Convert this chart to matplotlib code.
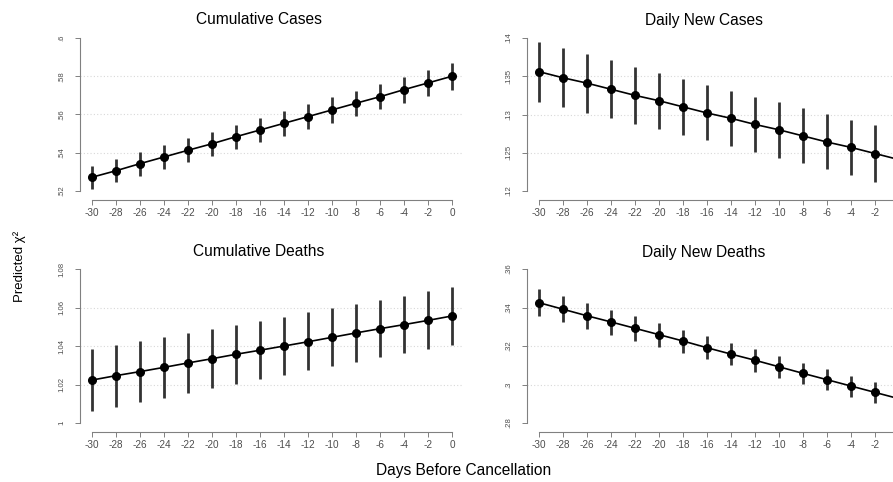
import matplotlib
matplotlib.use("Agg")
import matplotlib.pyplot as plt

plt.rcParams['font.family'] = ['Liberation Sans', 'DejaVu Sans']

days = [-30, -28, -26, -24, -22, -20, -18, -16, -14, -12, -10, -8, -6, -4, -2, 0]

# Cumulative Cases
cc_fit = [0.5272, 0.5306, 0.5343, 0.5378, 0.5413, 0.5447, 0.5484, 0.5519,
          0.5554, 0.5589, 0.5624, 0.5659, 0.5693, 0.5730, 0.5765, 0.5800]
cc_hi = [0.5332, 0.5367, 0.5404, 0.5439, 0.5475, 0.5510, 0.5547, 0.5582,
         0.5618, 0.5653, 0.5690, 0.5725, 0.5761, 0.5796, 0.5833, 0.5869]
cc_lo = [0.5209, 0.5245, 0.5280, 0.5315, 0.5350, 0.5385, 0.5420, 0.5455,
         0.5489, 0.5524, 0.5557, 0.5592, 0.5627, 0.5662, 0.5695, 0.5730]

# Daily New Cases
dc_fit = [0.1356, 0.1348, 0.1341, 0.1333, 0.1325, 0.1318, 0.1310, 0.1302,
          0.1295, 0.1287, 0.1280, 0.1272, 0.1264, 0.1257, 0.1249, 0.1241]
dc_hi = [0.13952, 0.13869, 0.13791, 0.13708, 0.13625, 0.13546, 0.13464, 0.13386,
         0.13307, 0.13233, 0.13160, 0.13081, 0.13007, 0.12932, 0.12859, 0.12785]
dc_lo = [0.13159, 0.13094, 0.13020, 0.12950, 0.12876, 0.12806, 0.12732, 0.12663,
         0.12588, 0.12510, 0.12435, 0.12362, 0.12284, 0.12205, 0.12122, 0.12040]

# Cumulative Deaths
cd_fit = [1.0223, 1.0246, 1.0267, 1.0289, 1.0312, 1.0334, 1.0357, 1.0378,
          1.0400, 1.0422, 1.0445, 1.0468, 1.0490, 1.0511, 1.0533, 1.0556]
cd_hi = [1.0384, 1.0407, 1.0426, 1.0448, 1.0468, 1.0488, 1.0509, 1.0531,
         1.0552, 1.0575, 1.0596, 1.0618, 1.0641, 1.0661, 1.0684, 1.0705]
cd_lo = [1.0061, 1.0085, 1.0108, 1.0132, 1.0156, 1.0180, 1.0203, 1.0227,
         1.0249, 1.0274, 1.0295, 1.0318, 1.0341, 1.0362, 1.0384, 1.0406]

# Daily New Deaths
dd_fit = [0.3425, 0.3391, 0.3357, 0.3325, 0.3292, 0.3259, 0.3226, 0.3191,
          0.3158, 0.3126, 0.3092, 0.3058, 0.3025, 0.2992, 0.2959, 0.2926]
dd_hi = [0.3495, 0.3459, 0.3425, 0.3389, 0.3355, 0.3319, 0.3285, 0.3250,
         0.3216, 0.3183, 0.3148, 0.3113, 0.3081, 0.3046, 0.3013, 0.2980]
dd_lo = [0.3356, 0.3323, 0.3290, 0.3259, 0.3227, 0.3195, 0.3164, 0.3132,
         0.3100, 0.3066, 0.3035, 0.3003, 0.2970, 0.2937, 0.2902, 0.2868]

titles = ["Cumulative Cases", "Daily New Cases", "Cumulative Deaths", "Daily New Deaths"]
yticks = [[0.52, 0.54, 0.56, 0.58, 0.6],
          [0.12, 0.125, 0.13, 0.135, 0.14],
          [1, 1.02, 1.04, 1.06, 1.08],
          [0.28, 0.30, 0.32, 0.34, 0.36]]
ylabels = [[".52", ".54", ".56", ".58", ".6"],
           [".12", ".125", ".13", ".135", ".14"],
           ["1", "1.02", "1.04", "1.06", "1.08"],
           [".28", ".3", ".32", ".34", ".36"]]
series = [(cc_fit, cc_lo, cc_hi), (dc_fit, dc_lo, dc_hi),
          (cd_fit, cd_lo, cd_hi), (dd_fit, dd_lo, dd_hi)]

W, H = 893, 482
fig = plt.figure(figsize=(W / 100, H / 100), dpi=100)
fig.patch.set_facecolor('white')

# panel boxes in pixels: (left, top, bottom); right column runs off the page
boxes = [(80, 38, 200), (527, 38, 200), (80, 269, 432), (527, 269, 432)]
panel_w = 383
title_pos = [(259, 20), (704, 20), (259, 252), (704, 252)]

axis_grey = '#808080'
text_grey = '#4d4d4d'

for i in range(4):
    left, top, bot = boxes[i]
    ax = fig.add_axes([left / W, 1 - bot / H, panel_w / W, (bot - top) / H])
    fit, lo, hi = series[i]
    yt = yticks[i]
    span = yt[-1] - yt[0]
    tick_px = (bot - 9 - top)
    ax.set_ylim(yt[0] - 9 / tick_px * span, yt[-1])
    ax.set_xlim(-30 - 12 / 12.0, 0.917)

    for v in yt[1:-1]:
        ax.axhline(v, color='#d8d8d8', lw=0.8, ls=(0, (1, 2)), zorder=0)

    ax.vlines(days, lo, hi, color='#333333', lw=2.0, zorder=2)
    ax.plot(days, fit, color='black', lw=1.2, marker='o', ms=5.5, zorder=3)

    for s in ['top', 'right']:
        ax.spines[s].set_visible(False)
    for s in ['left', 'bottom']:
        ax.spines[s].set_color(axis_grey)
        ax.spines[s].set_linewidth(0.8)
    ax.spines['left'].set_bounds(yt[0], yt[-1])
    ax.spines['bottom'].set_bounds(days[0], days[-1])

    ax.set_yticks(yt)
    ax.set_yticklabels(ylabels[i], rotation=90, va='center', fontsize=5.6, color=text_grey)
    ax.set_xticks(days)
    ax.set_xticklabels([str(d) for d in days], fontsize=7.2, color=text_grey)
    ax.tick_params(axis='y', length=3.5, width=0.7, color=axis_grey, pad=7)
    ax.tick_params(axis='x', length=3.5, width=0.7, color=axis_grey, pad=2)
    ax.patch.set_alpha(0)

    tx, ty = title_pos[i]
    fig.text(tx / W, 1 - ty / H, titles[i], ha='center', va='center',
             fontsize=11.2, color='black')

fig.text(20 / W, 1 - 266 / H, "Predicted χ²", rotation=90, ha='center', va='center',
         fontsize=9.5, color='black')
fig.text(464 / W, 1 - 470 / H, "Days Before Cancellation", ha='center', va='center',
         fontsize=11.2, color='black')

fig.savefig("out.png", dpi=100)
